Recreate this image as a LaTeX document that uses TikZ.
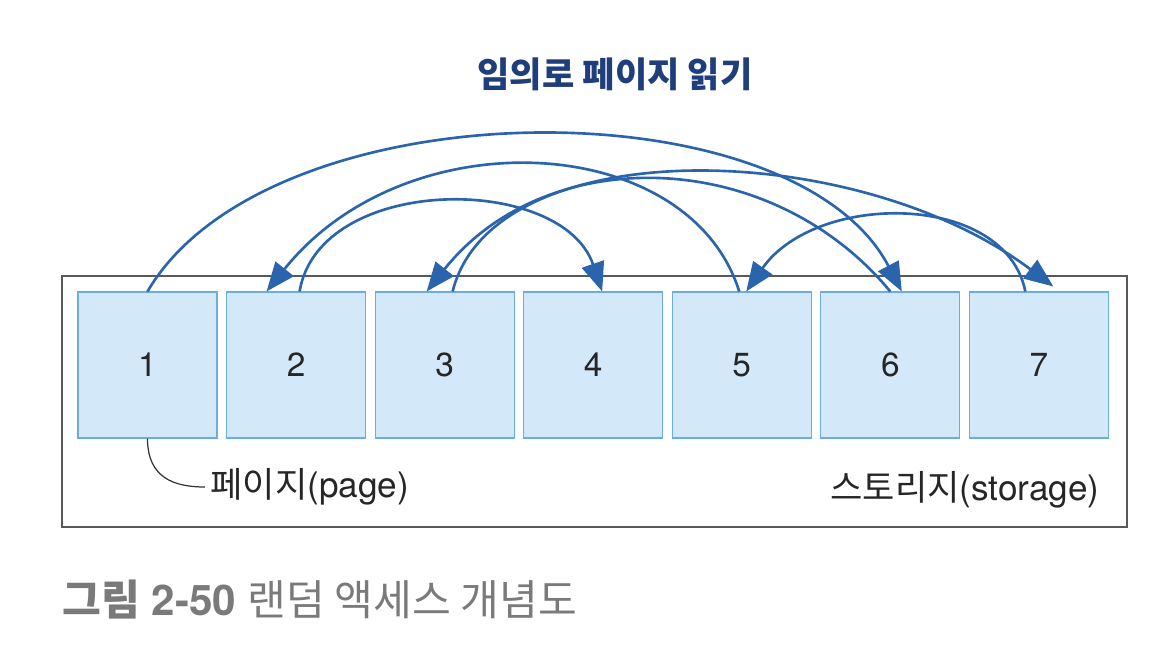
\documentclass[tikz,border=0pt]{standalone}
\usepackage{fontspec}
\setmainfont{TeX Gyre Heros}
\newfontfamily\kr{Noto Sans CJK KR}
\usetikzlibrary{positioning}
\usetikzlibrary{arrows.meta}
\definecolor{pageblue}{HTML}{D3E9F9}
\definecolor{pageedge}{HTML}{6AADE2}
\definecolor{arcblue}{HTML}{2A64AD}
\definecolor{titleblue}{HTML}{1F3E7C}
\definecolor{capgray}{HTML}{7A7A7A}

\begin{document}
\begin{tikzpicture}[
  page/.style={draw=pageedge, fill=pageblue, line width=0.6pt, minimum width=2.78cm, minimum height=2.92cm, inner sep=0pt, text=black!85, font=\fontsize{19}{22}\selectfont},
  jump/.style={draw=arcblue, line width=1.5pt, -{Triangle[length=0.58cm,width=0.46cm]}},
  lbl/.style={inner sep=0pt, text=black!85, font=\fontsize{20}{24}\selectfont}
]
\useasboundingbox (0,0) rectangle (23.44,13.04);
\node[font=\kr\bfseries\fontsize{20}{24}\selectfont, text=titleblue] (title) at (12.3,11.56) {임의로 페이지 읽기};
% storage
\node[draw=black!65, line width=0.8pt, minimum width=21.3cm, minimum height=5.02cm, inner sep=0pt] (store) at (11.89,5.01) {};
\node[page] (b1) at (2.95,5.74) {1};
\node[page, right=0.17cm of b1] (b2) {2};
\node[page, right=0.17cm of b2] (b3) {3};
\node[page, right=0.17cm of b3] (b4) {4};
\node[page, right=0.17cm of b4] (b5) {5};
\node[page, right=0.17cm of b5] (b6) {6};
\node[page, right=0.17cm of b6] (b7) {7};
\node[lbl, anchor=west, inner sep=0.1cm] (pagelbl) at (4.1,3.3) {{\kr 페이지}(page)};
\node[lbl, anchor=east] (storelbl) at (22.0,3.24) {{\kr 스토리지}(storage)};
\draw[line width=0.7pt, color=black!80] (b1.south) .. controls +(0,-0.8) and +(-0.6,0) .. (pagelbl.west);
% random reads
\draw[jump] (b1.north) .. controls +(2.4,4.1) and +(-2.2,4.2) .. ([xshift=0.23cm]b6.north);
\draw[jump] ([xshift=0.07cm]b2.north) .. controls +(0.4,2.36) and +(-0.8,2.36) .. ([xshift=0.18cm]b4.north);
\draw[jump] ([xshift=-0.05cm]b5.north) .. controls +(-1.0,3.2) and +(2.8,3.5) .. ([xshift=-0.59cm]b2.north);
\draw[jump] ([xshift=0.16cm]b3.north) .. controls +(0.8,3.2) and +(-4.0,3.0) .. ([xshift=0.29cm,yshift=0.1cm]b7.north);
\draw[jump] (b6.north) .. controls +(-2.4,2.9) and +(2.4,3.0) .. ([xshift=-0.36cm]b3.north);
\draw[jump] ([xshift=-0.27cm]b7.north) .. controls +(-0.4,2.0) and +(1.4,2.0) .. ([xshift=0.09cm]b5.north);
\node[anchor=west, inner sep=0pt, text=capgray, font=\fontsize{24}{28}\selectfont] (caption) at (1.24,1.04) {{\kr\bfseries 그림} \textbf{2-50} {\kr 랜덤 액세스 개념도}};
\end{tikzpicture}
\end{document}
